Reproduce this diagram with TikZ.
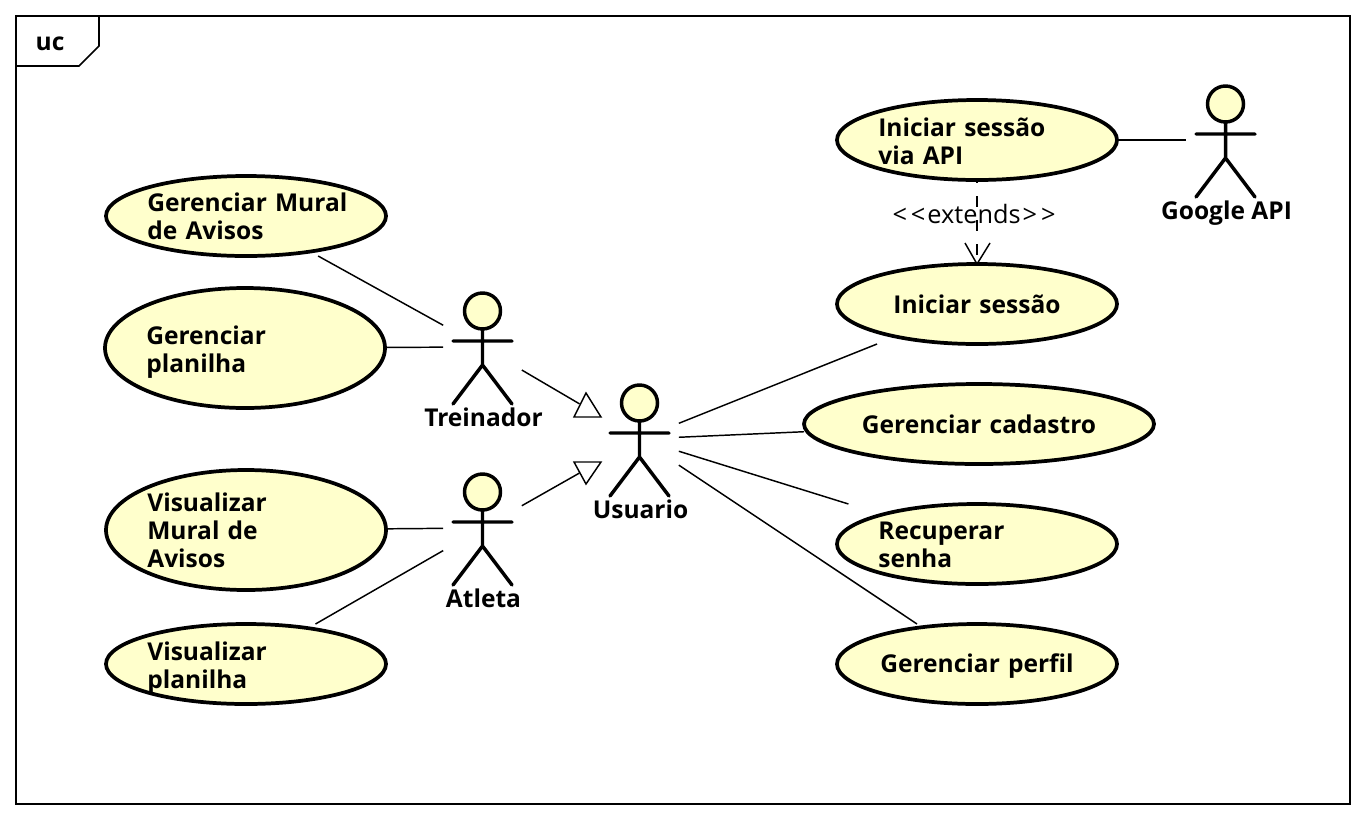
\documentclass[tikz,border=0pt]{standalone}
\usepackage{fontspec}
\setmainfont{Open Sans}
\usetikzlibrary{arrows.meta}
\definecolor{ucfill}{RGB}{255,255,204}
\tikzset{
  x=0.75pt,y=-0.75pt,
  frameline/.style={draw=black,line width=1.6pt},
  tabline/.style={draw=black,line width=1.2pt},
  uclabel/.style={font=\fontsize{18.4pt}{21pt}\selectfont\bfseries},
  ucshape/.style={draw=black,fill=ucfill,line width=2.8pt},
  ucbox/.style={draw=none,inner sep=0pt,outer sep=0pt},
  uctext/.style={uclabel,inner sep=0pt},
  textleft/.style={text width=150pt,align=left,xshift=1pt},
  textmid/.style={text width=240pt,align=center},
  actorbox/.style={draw=none,inner sep=0pt,outer sep=0pt,minimum width=59pt,minimum height=84pt},
  actorline/.style={draw=black,line width=2.6pt,line cap=round},
  actorhead/.style={draw=black,fill=ucfill,line width=2.6pt},
  assoc/.style={draw=black,line width=1.1pt},
  extendline/.style={draw=black,line width=1.1pt,dash pattern=on 8pt off 10pt,dash phase=6pt},
  gentip/.style={draw=black,fill=white,line width=1.1pt,line join=miter},
  openhead/.style={draw=black,line width=1.1pt,line join=miter},
}
% name, cx, cy, rx, ry, text style, text y shift, text
\newcommand{\usecase}[8]{%
  \path[ucshape] (#2,#3) ellipse [x radius=#4,y radius=#5];
  \node[ucbox,minimum width=#4*1.5pt,minimum height=#5*1.5pt] (#1) at (#2,#3) {};
  \node[uctext,#6] (#1text) at (#2,#3+#7) {#8};
}
% name, head x, head y, label
\newcommand{\actorfig}[4]{%
  \node[actorbox] (#1) at (#2,#3+36) {};
  \draw[actorhead] (#2,#3) circle [radius=18];
  \path[actorline] (#2,#3+18) -- (#2,#3+54)
    (#2-29.5,#3+30) -- (#2+29.5,#3+30)
    (#2-29.5,#3+93) -- (#2,#3+54) -- (#2+29.5,#3+93);
  \node[uclabel,inner sep=0pt,anchor=base] (#1label) at (#2+1,#3+115) {#4};
}
\begin{document}
\begin{tikzpicture}
\useasboundingbox (0,0) rectangle (1366,822);
\fill[white] (0,0) rectangle (1366,822);
\path[frameline] (16,16) rectangle (1350,804);
\path[tabline] (16,66) -- (79,66) -- (99,46) -- (99,16);
\node[uclabel,inner sep=0pt] (frametag) at (50,44) {uc};

\usecase{mural}{246}{216}{140}{40}{textleft}{0.5}{Gerenciar Mural\\de Avisos}
\usecase{planilha}{245}{348}{140}{60}{textleft}{4}{Gerenciar\\planilha}
\usecase{vmural}{246}{530}{140}{60}{textleft}{0}{Visualizar\\Mural de\\Avisos}
\usecase{vplanilha}{246}{664}{140}{40}{textleft}{4}{Visualizar\\planilha}
\usecase{viaapi}{977}{140}{140}{40}{textleft}{1}{Iniciar sessão\\via API}
\usecase{sessao}{977}{304}{140}{40}{textmid}{0}{Iniciar sessão}
\usecase{cadastro}{979}{424}{175}{40}{textmid}{0}{Gerenciar cadastro}
\usecase{senha}{977}{544}{140}{40}{textleft}{0.5}{Recuperar\\senha}
\usecase{perfil}{977}{664}{140}{40}{textmid}{2}{Gerenciar perfil}

\actorfig{treinador}{482.5}{311}{Treinador}
\actorfig{atleta}{482.5}{492}{Atleta}
\actorfig{usuario}{639.5}{403}{Usuario}
\actorfig{google}{1225.5}{104}{Google API}

\path[assoc] (mural) -- (treinador);
\path[assoc] (planilha) -- (treinador);
\path[assoc] (vmural) -- (atleta);
\path[assoc] (vplanilha) -- (atleta);
\path[assoc] (usuario) -- (sessao);
\path[assoc] (usuario) -- (cadastro);
\path[assoc] (usuario) -- (senha);
\path[assoc] (usuario) -- (perfil);
\path[assoc] (viaapi) -- (google);

\path[assoc,shorten >=18pt] (treinador) -- (usuario);
\path[gentip] (586,393) -- (601,417) -- (574,417) -- cycle;
\path[assoc,shorten >=18pt] (atleta) -- (usuario);
\path[gentip] (574,462) -- (601,462) -- (586,484) -- cycle;

\path[extendline] (viaapi) -- (sessao);
\coordinate (tipa) at (965,243);
\coordinate (tipb) at (990,243);
\path[openhead] (tipa) -- (sessao.north) -- (tipb);
\node[font=\fontsize{19pt}{21pt}\selectfont,inner sep=0pt] (extlabel) at (974,214) {{<}\kern3pt{<}\kern1.4pt extends\kern1.4pt{>}\kern3pt{>}};
\end{tikzpicture}
\end{document}
